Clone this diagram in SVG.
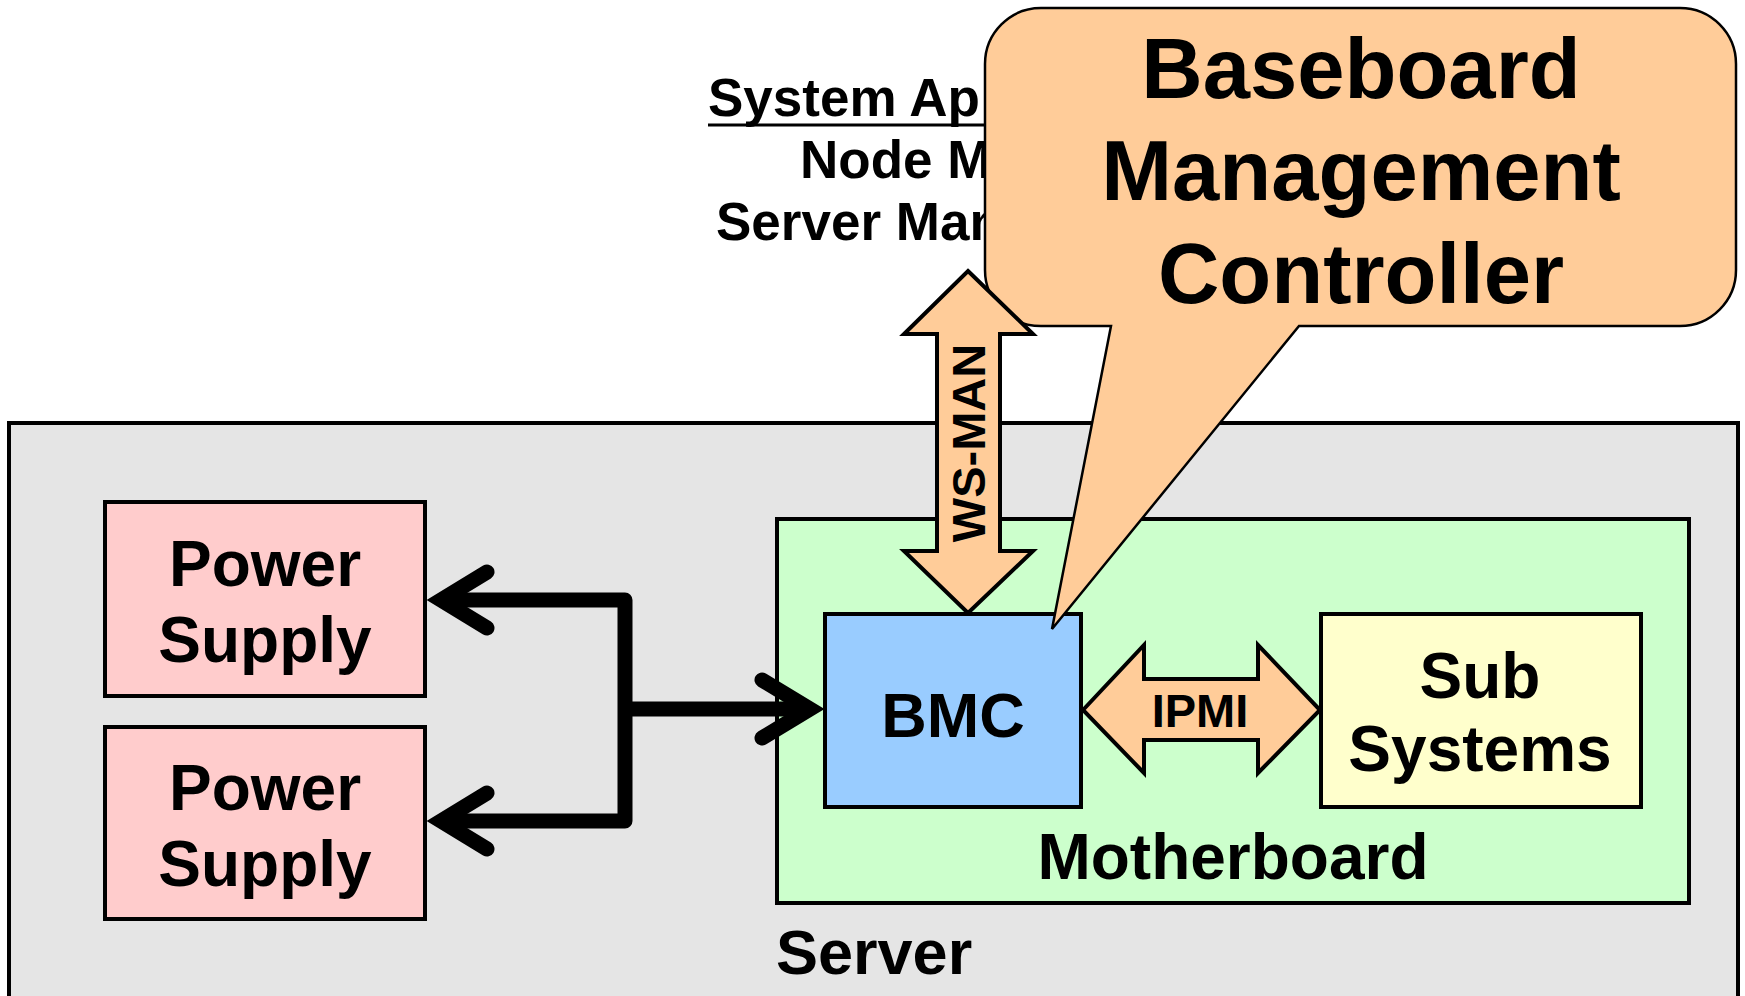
<svg xmlns="http://www.w3.org/2000/svg" width="1745" height="996" viewBox="0 0 1745 996">
<style>
text{font-family:"Liberation Sans",Arial,sans-serif;font-weight:bold;fill:#000}
.box{stroke:#000;stroke-width:4}
.c{text-anchor:middle}
.wire{fill:none;stroke:#000;stroke-width:15;stroke-linejoin:round}
.head{fill:none;stroke:#000;stroke-width:15;stroke-linecap:round;stroke-linejoin:miter}
.peach{fill:#FFCC99;stroke:#000;stroke-width:4;stroke-linejoin:miter}
</style>
<rect width="1745" height="996" fill="#fff"/>
<g id="server">
<rect class="box" x="9" y="423" width="1729" height="590" fill="#E5E5E5"/>
<text x="776" y="974" font-size="63">Server</text>
</g>
<g id="motherboard">
<rect class="box" x="777" y="519" width="912" height="384" fill="#CCFFCC"/>
<text class="c" x="1233" y="879" font-size="64">Motherboard</text>
</g>
<g id="bmc">
<rect class="box" x="825" y="614" width="256" height="193" fill="#99CCFF"/>
<text class="c" x="953" y="737" font-size="63">BMC</text>
</g>
<g id="subsystems">
<rect class="box" x="1321" y="614" width="320" height="193" fill="#FFFFCC"/>
<text class="c" x="1480" y="698" font-size="64">Sub</text>
<text class="c" x="1480" y="771" font-size="64">Systems</text>
</g>
<g id="ps1">
<rect class="box" x="105" y="502" width="320" height="194" fill="#FFCCCC"/>
<text class="c" x="265" y="586" font-size="64">Power</text>
<text class="c" x="265" y="662" font-size="64">Supply</text>
</g>
<g id="ps2">
<rect class="box" x="105" y="727" width="320" height="192" fill="#FFCCCC"/>
<text class="c" x="265" y="810" font-size="64">Power</text>
<text class="c" x="265" y="886" font-size="64">Supply</text>
</g>
<g id="apps">
<text x="708" y="116" font-size="53">System Ap</text>
<line x1="708" y1="125" x2="990" y2="125" stroke="#000" stroke-width="3"/>
<text x="800" y="178" font-size="53">Node M</text>
<text x="716" y="240" font-size="53">Server Man</text>
</g>
<g id="callout">
<path d="M1041,8 H1680 A56,56 0 0 1 1736,64 V270 A56,56 0 0 1 1680,326 H1299 L1052,629 L1111,326 H1041 A56,56 0 0 1 985,270 V64 A56,56 0 0 1 1041,8 Z" fill="#FFCC99" stroke="#000" stroke-width="2.5"/>
<text class="c" x="1361" y="98" font-size="85">Baseboard</text>
<text class="c" x="1361" y="200" font-size="85">Management</text>
<text class="c" x="1361" y="303" font-size="85">Controller</text>
</g>
<g id="connectors">
<path class="wire" d="M442,600 H625 V821 H442 M625,709 H808"/>
<path class="head" d="M487,572 L441,600 L487,628 M487,793 L441,821 L487,849 M762,680 L810,709 L762,738"/>
<g id="wsman">
<polygon class="peach" points="968,271 1033,334 1000,334 1000,551 1033,551 968,613 904,551 937,551 937,334 904,334"/>
<text class="c" font-size="47" transform="translate(985,443) rotate(-90)">WS-MAN</text>
</g>
<g id="ipmi">
<polygon class="peach" points="1083,710 1144,645 1144,679 1258,679 1258,645 1320,710 1258,773 1258,740 1144,740 1144,773"/>
<text class="c" x="1200" y="727" font-size="47">IPMI</text>
</g>
</g>
</svg>
